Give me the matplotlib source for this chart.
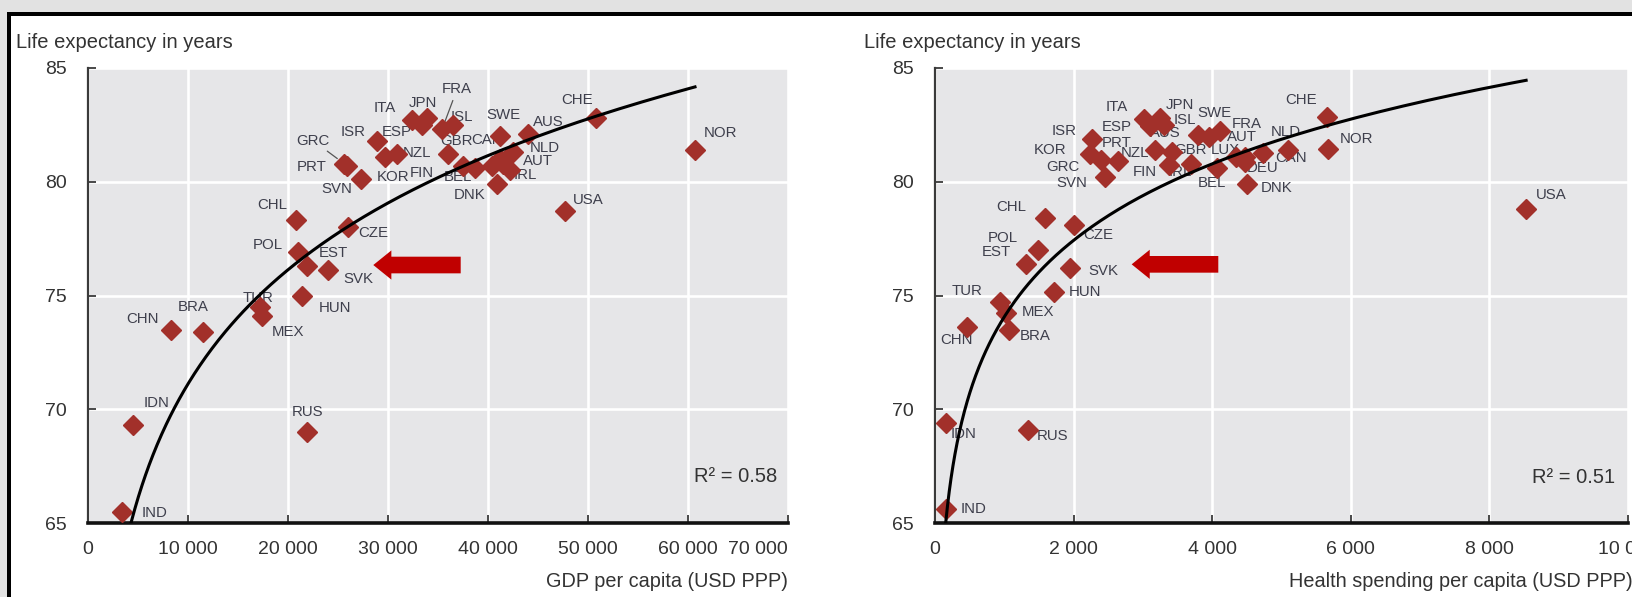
import numpy as np
import matplotlib
matplotlib.use("Agg")
import matplotlib.pyplot as plt
from matplotlib.patches import Rectangle

plt.rcParams['font.family'] = ['Liberation Sans', 'DejaVu Sans']

# ---------------- data ----------------
codes = ["AUS", "AUT", "BEL", "CAN", "CHE", "CHL", "CZE", "DNK", "EST", "FIN",
         "FRA", "DEU", "GRC", "HUN", "ISL", "IRL", "ISR", "ITA", "JPN", "KOR",
         "MEX", "NLD", "NZL", "NOR", "POL", "PRT", "SVK", "SVN", "ESP", "SWE",
         "TUR", "GBR", "USA", "BRA", "CHN", "IDN", "IND", "RUS"]

gdp_per_capita = [44000, 41500, 37500, 41200, 50800, 20800, 26000, 40900, 21900, 38700,
                  35400, 40400, 25600, 21400, 36500, 42200, 28900, 32400, 33900, 29700,
                  17400, 42500, 30900, 60700, 21000, 25900, 24000, 27300, 33400, 41200,
                  17200, 36000, 47700, 11500, 8300, 4500, 3400, 21900]

life_exp_gdp = [82.1, 80.8, 80.7, 81.0, 82.8, 78.3, 78.0, 79.9, 76.3, 80.6,
                82.3, 80.7, 80.8, 75.0, 82.5, 80.5, 81.8, 82.7, 82.8, 81.1,
                74.1, 81.3, 81.2, 81.4, 76.9, 80.7, 76.1, 80.1, 82.5, 82.0,
                74.5, 81.2, 78.7, 73.4, 73.5, 69.3, 65.5, 69.0]

codes_hs = ["AUS", "AUT", "BEL", "CAN", "CHE", "CHL", "CZE", "DNK", "EST", "FIN",
            "FRA", "DEU", "GRC", "HUN", "ISL", "IRL", "ISR", "ITA", "JPN", "KOR",
            "LUX", "MEX", "NLD", "NZL", "NOR", "POL", "PRT", "SVK", "SVN", "ESP",
            "SWE", "TUR", "GBR", "USA", "BRA", "CHN", "IDN", "IND", "RUS"]

health_spending = [3800, 4470, 4065, 4740, 5650, 1590, 2000, 4500, 1320, 3370,
                   4115, 4470, 2400, 1720, 3300, 3700, 2260, 3010, 3250, 2235,
                   4350, 1030, 5100, 3180, 5670, 1490, 2640, 1950, 2450, 3100,
                   3950, 940, 3420, 8530, 1070, 460, 160, 160, 1340]

life_exp_hs = [82.05, 81.1, 80.6, 81.25, 82.85, 78.4, 78.1, 79.9, 76.4, 80.75,
               82.25, 80.85, 80.95, 75.15, 82.5, 80.8, 81.9, 82.75, 82.8, 81.2,
               81.1, 74.25, 81.4, 81.4, 81.45, 77.0, 80.9, 76.2, 80.2, 82.45,
               81.95, 74.7, 81.3, 78.8, 73.5, 73.6, 69.4, 65.6, 69.1]

# logarithmic trend lines as drawn in the chart: y = a*ln(x) + b
trend_gdp = (7.24, 4.43)
trend_hs = (4.85, 40.56)

r2_gdp = "0.58"
r2_hs = "0.51"

gdp_ticks = [0, 10000, 20000, 30000, 40000, 50000, 60000, 70000]
hs_ticks = [0, 2000, 4000, 6000, 8000, 10000]
y_ticks = [65, 70, 75, 80, 85]

# ---------------- label placement (pixel offsets from marker) ----------------
lab_gdp = {
    "AUS": (20, 12), "AUT": (35, 3), "BEL": (-5, -11), "CAN": (-13, 19), "CHE": (-19, 18),
    "CHL": (-24, 15), "CZE": (25, -6), "DNK": (-27, -11), "EST": (26, 13), "FIN": (-53, -5),
    "FRA": (15, 40), "GRC": (-31, 23), "HUN": (33, -13), "ISL": (9, 8),
    "IRL": (15, -5), "ISR": (-24, 9), "ITA": (-27, 12), "JPN": (-4, 15), "KOR": (8, -20),
    "MEX": (26, -16), "NLD": (32, 4), "NZL": (20, 1), "NOR": (26, 17), "POL": (-30, 7),
    "PRT": (-35, -1), "SVK": (30, -9), "SVN": (-24, -10), "ESP": (-25, -7), "SWE": (3, 21),
    "TUR": (-2, 9), "GBR": (9, 13), "USA": (23, 11), "BRA": (-10, 25), "CHN": (-28, 11),
    "IDN": (24, 22), "IND": (33, -1), "RUS": (1, 20),
}
leaders_gdp = {"FRA", "GRC"}

lab_hs = {
    "AUS": (-33, 2), "AUT": (-3, 20), "BEL": (-5, -15), "CAN": (28, -5), "CHE": (-25, 17),
    "CHL": (-34, 11), "CZE": (25, -10), "DNK": (30, -4), "EST": (-30, 12), "FIN": (-24, -7),
    "FRA": (27, 7), "DEU": (18, -6), "GRC": (-38, -7), "HUN": (31, 0), "ISL": (21, 5),
    "IRL": (-11, -8), "ISR": (-27, 8), "ITA": (-27, 12), "JPN": (20, 13), "KOR": (-40, 4),
    "LUX": (-11, 7), "MEX": (32, 1), "NLD": (-3, 18), "NZL": (-20, -3), "NOR": (29, 10),
    "POL": (-35, 12), "PRT": (-1, 18), "SVK": (33, -3), "SVN": (-33, -6), "ESP": (-33, -1),
    "SWE": (6, 24), "TUR": (-33, 11), "GBR": (18, 2), "USA": (25, 14), "BRA": (26, -6),
    "CHN": (-10, -13), "IDN": (17, -11), "IND": (27, 0), "RUS": (25, -6),
}

# ---------------- styling ----------------
W, H = 1633, 597
MARKER_C = "#A2302A"
LABEL_C = "#3e3f4c"
TEXT_C = "#333333"
BG_C = "#e6e6e8"


def box(l, t, r, b):
    return [l / W, 1 - b / H, (r - l) / W, (b - t) / H]


def fmt(v):
    return f"{int(v):,}".replace(",", " ")


fig = plt.figure(figsize=(W / 100, H / 100), dpi=100)
fig.patch.set_facecolor("white")

# screenshot frame decoration
fig.add_artist(Rectangle((0, 1 - 12 / H), 1, 12 / H, transform=fig.transFigure,
                         facecolor="#e2e2e2", edgecolor="none", zorder=0))
fig.add_artist(Rectangle((0, 0), 7 / W, 1, transform=fig.transFigure,
                         facecolor="#e2e2e2", edgecolor="none", zorder=0))
fig.add_artist(Rectangle((7 / W, 1 - 15.5 / H), 1, 3.5 / H, transform=fig.transFigure,
                         facecolor="black", edgecolor="none", zorder=1))
fig.add_artist(Rectangle((7 / W, 0), 4 / W, 1 - 12 / H, transform=fig.transFigure,
                         facecolor="black", edgecolor="none", zorder=1))


def panel(rect, xs, ys, cds, labs, leaders, xlim, xticks, trend, r2, xlabel, xlabel_x,
          xlabel_ha, arrow, last_right):
    ax = fig.add_axes(rect)
    ax.set_facecolor(BG_C)
    ax.set_xlim(*xlim)
    ax.set_ylim(65, 85)
    ax.set_xticks(xticks)
    ax.set_yticks(y_ticks)
    ax.set_xticklabels([fmt(t) for t in xticks])
    ax.set_yticklabels([str(t) for t in y_ticks])
    if last_right:
        ax.get_xticklabels()[-1].set_horizontalalignment("right")
        ax.get_xticklabels()[-1].set_x(xticks[-1])
    ax.grid(True, color="white", linewidth=1.9, zorder=0)
    ax.set_axisbelow(True)
    for s in ("top", "right"):
        ax.spines[s].set_visible(False)
    ax.spines["left"].set_color("#3a3a3a")
    ax.spines["left"].set_linewidth(1.6)
    ax.spines["bottom"].set_color("#111111")
    ax.spines["bottom"].set_linewidth(2.6)
    ax.tick_params(axis="both", direction="in", length=6, width=1.3, color="#3a3a3a",
                   labelsize=14, labelcolor=TEXT_C)
    ax.tick_params(axis="x", pad=13)
    ax.tick_params(axis="y", pad=15)

    xs = np.asarray(xs, float)
    ys = np.asarray(ys, float)
    for c, x, y in zip(cds, xs, ys):
        if c not in labs:
            continue
        dx, dy = labs[c]
        kw = dict(xytext=(dx, dy), textcoords="offset pixels", ha="center", va="center",
                  fontsize=10.8, color=LABEL_C, zorder=3)
        if c in leaders:
            kw["arrowprops"] = dict(arrowstyle="-", color="#555555", lw=0.9,
                                    shrinkA=1, shrinkB=6)
        ax.annotate(c, (x, y), **kw)
    ax.plot(xs, ys, linestyle="none", marker="D", markersize=10, color=MARKER_C,
            markeredgecolor=MARKER_C, zorder=4)
    a, b = trend
    xx = np.geomspace(xs.min() * 0.3, xs.max(), 400)
    ax.plot(xx, a * np.log(xx) + b, color="black", linewidth=2.2, zorder=5)

    ax.text(r2[0], r2[1], "R\u00b2 = " + r2[2], transform=ax.transAxes, ha="right",
            va="center", fontsize=14.5, color=TEXT_C)
    ax.text(xlabel_x, -0.129, xlabel, transform=ax.transAxes, ha=xlabel_ha,
            va="center", fontsize=14.3, color=TEXT_C)
    (tx, ty), (sx, sy) = arrow
    ax.annotate("", xy=(tx, ty), xytext=(sx, sy),
                arrowprops=dict(arrowstyle="simple,head_length=13,head_width=21,tail_width=12",
                                mutation_scale=1, color="#C00000", lw=0,
                                shrinkA=0, shrinkB=0), zorder=6)
    return ax


ax1 = panel(box(88, 68, 788, 523), gdp_per_capita, life_exp_gdp, codes, lab_gdp,
            leaders_gdp, (0, 70000), gdp_ticks, trend_gdp, (0.985, 0.102, r2_gdp),
            "GDP per capita (USD PPP)", 1.0, "right",
            ((28530, 76.34), (37270, 76.34)), True)
ax2 = panel(box(935, 68, 1628, 523), health_spending, life_exp_hs, codes_hs, lab_hs,
            set(), (0, 10000), hs_ticks, trend_hs, (0.982, 0.10, r2_hs),
            "Health spending per capita (USD PPP)", 0.511, "left",
            ((2838, 76.37), (4088, 76.37)), False)

fig.text(16 / W, 1 - 42 / H, "Life expectancy in years", ha="left", va="center",
         fontsize=14.5, color=TEXT_C)
fig.text(864 / W, 1 - 42 / H, "Life expectancy in years", ha="left", va="center",
         fontsize=14.5, color=TEXT_C)

fig.savefig("out.png", dpi=100)
